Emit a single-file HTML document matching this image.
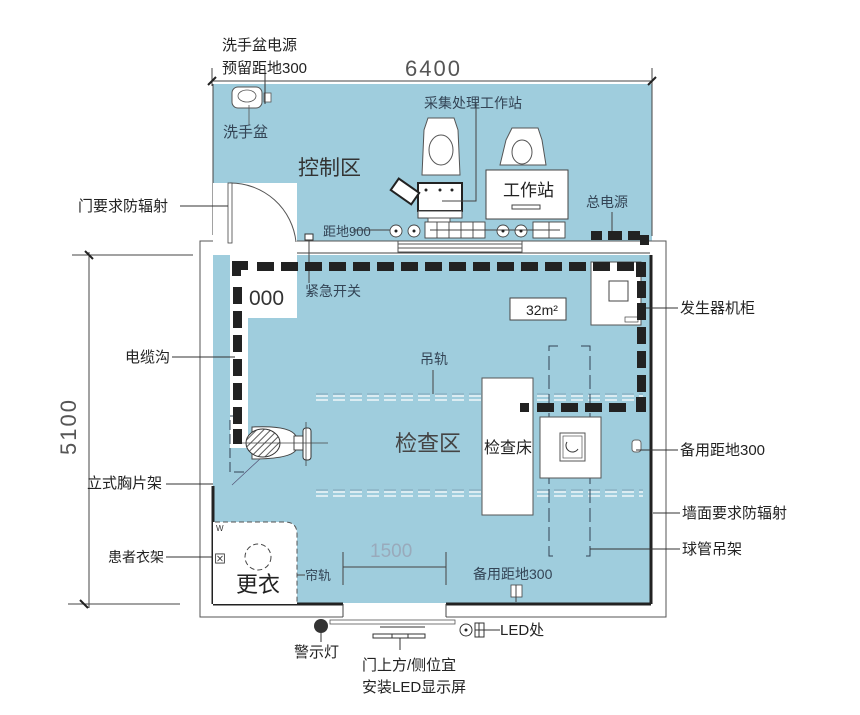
<!DOCTYPE html>
<html><head><meta charset="utf-8"><style>
html,body{margin:0;padding:0;background:#fff;width:860px;height:715px;overflow:hidden}
svg{display:block}
text{font-family:"Liberation Sans","Noto Sans CJK SC",sans-serif}
</style></head><body>
<svg width="860" height="715" viewBox="0 0 860 715" xmlns="http://www.w3.org/2000/svg">
<defs>
<pattern id="hatch" width="5" height="5" patternUnits="userSpaceOnUse" patternTransform="rotate(45)">
<rect width="5" height="5" fill="#fff"/><line x1="0" y1="0" x2="0" y2="5" stroke="#333" stroke-width="1.6"/></pattern>
</defs>
<rect x="213" y="84" width="439" height="158" fill="#9fcddd"/>
<line x1="213" y1="84" x2="213" y2="235" stroke="#444" stroke-width="1"/>
<rect x="200" y="241" width="466" height="14" fill="#fff"/>
<line x1="200" y1="241" x2="229" y2="241" stroke="#444"/>
<line x1="296" y1="241" x2="666" y2="241" stroke="#444"/>
<line x1="296" y1="253" x2="650" y2="253" stroke="#444"/>
<line x1="398" y1="244" x2="522" y2="244" stroke="#555"/>
<line x1="398" y1="248" x2="522" y2="248" stroke="#555"/>
<line x1="398" y1="252" x2="522" y2="252" stroke="#555"/>
<line x1="398" y1="241" x2="398" y2="253" stroke="#555"/>
<line x1="522" y1="241" x2="522" y2="253" stroke="#555"/>
<rect x="213" y="255" width="438" height="349" fill="#9fcddd"/>
<rect x="200" y="241" width="466" height="376" fill="none" stroke="#555" stroke-width="1"/>
<line x1="651" y1="255" x2="651" y2="604" stroke="#222" stroke-width="3"/>
<line x1="213" y1="486" x2="213" y2="604" stroke="#222" stroke-width="3"/>
<line x1="213" y1="604" x2="343" y2="604" stroke="#222" stroke-width="3"/>
<line x1="446" y1="604" x2="651" y2="604" stroke="#222" stroke-width="3"/>
<rect x="343" y="603" width="103" height="15" fill="#fff"/>
<line x1="343" y1="604" x2="343" y2="617" stroke="#444"/>
<line x1="446" y1="604" x2="446" y2="617" stroke="#444"/>
<rect x="330" y="620" width="125" height="4" fill="#fff" stroke="#555" stroke-width="0.8"/>
<rect x="213" y="183" width="84" height="72" fill="#fff"/>
<path d="M230 183 A66 66 0 0 1 296 242 L230 242 Z" fill="#fff"/>
<path d="M230 183 A66 66 0 0 1 296 242" fill="none" stroke="#555"/>
<rect x="228" y="183" width="4" height="60" fill="#fff" stroke="#444" stroke-width="0.8"/>
<rect x="230" y="255" width="67" height="63" fill="#fff"/>
<text x="249" y="305" font-size="21" fill="#333" font-family="Liberation Sans">000</text>
<rect x="230" y="318" width="18" height="130" fill="#fff"/>
<g fill="#222">
<rect x="232" y="261" width="16" height="9"/>
<rect x="232" y="261" width="9" height="15"/>
</g>
<rect x="232" y="87" width="30" height="21" rx="6" fill="#fff" stroke="#555"/>
<ellipse cx="247" cy="96" rx="9" ry="6" fill="none" stroke="#555" stroke-width="0.8"/>
<rect x="264" y="93" width="7" height="9" fill="#fff" stroke="#555" stroke-width="0.8"/>
<line x1="265" y1="70" x2="265" y2="104" stroke="#333"/>
<line x1="249" y1="105" x2="249" y2="125" stroke="#555" stroke-width="0.8"/>
<text x="223" y="137" font-size="15" fill="#345">洗手盆</text>
<text x="298" y="175" font-size="21" fill="#333">控制区</text>
<path d="M428 118 L454 118 L458 130 L460 175 L422 175 L424 130 Z" fill="#fff" stroke="#555"/>
<ellipse cx="441" cy="150" rx="12" ry="15" fill="none" stroke="#555"/>
<rect x="418" y="183" width="44" height="28" fill="#fff" stroke="#222" stroke-width="2"/>
<rect x="418" y="211" width="44" height="7" fill="#fff" stroke="#444"/>
<circle cx="426" cy="190" r="1.5" fill="#222"/><circle cx="440" cy="190" r="1.5" fill="#222"/><circle cx="452" cy="190" r="1.5" fill="#222"/>
<rect x="428" y="218" width="22" height="8" fill="#fff" stroke="#555"/>
<g transform="rotate(35 404 192)"><rect x="392" y="184" width="25" height="14" fill="#fff" stroke="#222" stroke-width="2"/></g>
<polyline points="442,201 476,201 476,103" fill="none" stroke="#444"/>
<text x="424" y="108" font-size="14" fill="#345">采集处理工作站</text>
<path d="M512 128 L538 128 L542 140 L546 165 L500 165 L506 140 Z" fill="#fff" stroke="#555"/>
<ellipse cx="522" cy="152" rx="10" ry="12" fill="none" stroke="#555"/>
<rect x="486" y="170" width="82" height="49" fill="#fff" stroke="#444"/>
<text x="503" y="196" font-size="17" fill="#222">工作站</text>
<rect x="512" y="205" width="28" height="4" fill="#fff" stroke="#444"/>
<g fill="#fff" stroke="#444" stroke-width="0.9">
<circle cx="396" cy="231" r="6"/><circle cx="414" cy="231" r="6"/><circle cx="503" cy="231" r="6"/><circle cx="521" cy="231" r="6"/>
<rect x="425" y="222" width="60" height="16"/>
<rect x="533" y="222" width="32" height="16"/>
</g>
<g stroke="#444" stroke-width="0.9">
<line x1="437" y1="222" x2="437" y2="238"/><line x1="449" y1="222" x2="449" y2="238"/><line x1="461" y1="222" x2="461" y2="238"/><line x1="473" y1="222" x2="473" y2="238"/><line x1="549" y1="222" x2="549" y2="238"/>
<line x1="430" y1="230" x2="560" y2="230"/>
<line x1="353" y1="230" x2="390" y2="230"/>
</g>
<circle cx="396" cy="231" r="1.5" fill="#222"/><circle cx="414" cy="231" r="1.5" fill="#222"/><circle cx="503" cy="231" r="1.5" fill="#222"/><circle cx="521" cy="231" r="1.5" fill="#222"/>
<text x="323" y="236" font-size="13" fill="#345">距地900</text>
<rect x="305" y="234" width="8" height="6" fill="#fff" stroke="#333"/>
<line x1="309" y1="240" x2="309" y2="283" stroke="#444"/>
<text x="305" y="296" font-size="14" fill="#345">紧急开关</text>
<g fill="#222"><rect x="591" y="231" width="11" height="9"/><rect x="608" y="231" width="14" height="9"/><rect x="628" y="231" width="12" height="9"/><rect x="640" y="235" width="9" height="10"/></g>
<line x1="612" y1="212" x2="612" y2="231" stroke="#444"/>
<text x="586" y="207" font-size="14" fill="#345">总电源</text>
<rect x="591" y="262" width="50" height="63" fill="#fff" stroke="#555"/>
<rect x="609" y="281" width="19" height="20" fill="#fff" stroke="#444"/>
<rect x="625" y="317" width="13" height="5" fill="#fff" stroke="#444" stroke-width="0.7"/>
<rect x="510" y="298" width="56" height="22" fill="#fff" stroke="#444"/>
<text x="526" y="315" font-size="14" fill="#222">32m²</text>
<g stroke="#fff" stroke-width="1.2" stroke-dasharray="12 5">
<line x1="316" y1="396" x2="643" y2="396"/><line x1="316" y1="400" x2="643" y2="400"/>
<line x1="316" y1="492" x2="643" y2="492"/><line x1="316" y1="496" x2="643" y2="496"/>
</g>
<g stroke="#456" stroke-width="0.6" stroke-dasharray="12 5" opacity="0.6">
<line x1="316" y1="394" x2="643" y2="394"/><line x1="316" y1="490" x2="643" y2="490"/>
</g>
<line x1="433" y1="370" x2="433" y2="394" stroke="#444"/>
<text x="420" y="364" font-size="14" fill="#345">吊轨</text>
<rect x="482" y="378" width="51" height="137" fill="#fff" stroke="#555"/>
<text x="484" y="453" font-size="16" fill="#222">检查床</text>
<g stroke="#345" stroke-width="1" stroke-dasharray="14 5" fill="none">
<polyline points="558,346 549,346 549,556 558,556"/>
<polyline points="581,346 590,346 590,556 581,556"/>
</g>
<rect x="540" y="417" width="61" height="61" fill="#fff" stroke="#555"/>
<rect x="560" y="433" width="25" height="28" fill="#fff" stroke="#555"/>
<rect x="563" y="436" width="19" height="22" fill="none" stroke="#555" stroke-width="0.7"/>
<path d="M567 442 A6 6 0 1 0 578 449" fill="none" stroke="#333"/>
<text x="395" y="451" font-size="22" fill="#444">检查区</text>
<polyline points="240,416 230,416 230,472 245,472" fill="none" stroke="#345" stroke-dasharray="10 4"/>
<line x1="232" y1="485" x2="262" y2="457" stroke="#557" stroke-width="0.7"/>
<path d="M252 427 Q290 425 296 436 L296 450 Q290 459 252 459 Z" fill="#fff" stroke="#444"/>
<ellipse cx="263" cy="443" rx="17" ry="14" fill="url(#hatch)" stroke="#333"/>
<rect x="294" y="436" width="12" height="14" fill="#fff" stroke="#444"/>
<rect x="303" y="428" width="8" height="32" rx="3" fill="#fff" stroke="#333"/>
<line x1="306" y1="422" x2="306" y2="466" stroke="#444" stroke-width="0.8"/>
<line x1="240" y1="443" x2="328" y2="443" stroke="#444" stroke-width="0.8"/>
<path d="M213 522 L285 522 Q297 522 297 534 L297 604 L213 604 Z" fill="#fff"/>
<path d="M215 522 L285 522 Q297 522 297 534 L297 604" fill="none" stroke="#555" stroke-dasharray="5 3"/>
<circle cx="258" cy="557" r="13" fill="none" stroke="#444" stroke-dasharray="5 3"/>
<text x="236" y="592" font-size="22" fill="#222">更衣</text>
<text x="216" y="531" font-size="8" fill="#333">W</text>
<text x="214" y="563" font-size="12" fill="#333">⊠</text>
<line x1="343" y1="567" x2="446" y2="567" stroke="#444"/>
<line x1="343" y1="552" x2="343" y2="585" stroke="#444"/>
<line x1="446" y1="552" x2="446" y2="585" stroke="#444"/>
<text x="370" y="557" font-size="19" fill="#9ab" font-family="Liberation Sans">1500</text>
<line x1="297" y1="575" x2="305" y2="575" stroke="#444"/>
<text x="305" y="580" font-size="13" fill="#345">帘轨</text>
<text x="473" y="579" font-size="14" fill="#345">备用距地300</text>
<rect x="511" y="585" width="11" height="12" fill="#fff" stroke="#444" stroke-width="0.8"/>
<line x1="516" y1="585" x2="516" y2="602" stroke="#444"/>
<rect x="632" y="440" width="9" height="12" rx="3" fill="#fff" stroke="#666"/>
<circle cx="321" cy="626" r="7" fill="#333"/>
<line x1="321" y1="633" x2="321" y2="642" stroke="#333"/>
<text x="294" y="657" font-size="15" fill="#222">警示灯</text>
<g stroke="#333" fill="none"><line x1="380" y1="627" x2="425" y2="627"/><rect x="373" y="634" width="52" height="4"/><line x1="392" y1="634" x2="392" y2="638"/><line x1="408" y1="634" x2="408" y2="638"/><line x1="400" y1="638" x2="400" y2="650"/></g>
<text x="362" y="670" font-size="15" fill="#222">门上方/侧位宜</text>
<text x="362" y="692" font-size="15" fill="#222">安装LED显示屏</text>
<circle cx="466" cy="630" r="6" fill="#fff" stroke="#333"/><circle cx="466" cy="630" r="1.5" fill="#222"/>
<rect x="475" y="623" width="9" height="14" fill="#fff" stroke="#333"/><line x1="479" y1="623" x2="479" y2="637" stroke="#333"/><line x1="475" y1="630" x2="500" y2="630" stroke="#333"/>
<text x="500" y="635" font-size="15" fill="#222">LED处</text>
<line x1="212" y1="68" x2="212" y2="86" stroke="#444"/>
<line x1="652" y1="68" x2="652" y2="236" stroke="#444"/>
<line x1="212" y1="81" x2="652" y2="81" stroke="#444"/>
<line x1="208" y1="85" x2="216" y2="77" stroke="#222" stroke-width="2"/>
<line x1="648" y1="85" x2="656" y2="77" stroke="#222" stroke-width="2"/>
<text x="405" y="76" font-size="22" fill="#555" letter-spacing="2">6400</text>
<line x1="72" y1="255" x2="193" y2="255" stroke="#444"/>
<line x1="68" y1="604" x2="180" y2="604" stroke="#444"/>
<line x1="89" y1="252" x2="89" y2="608" stroke="#444"/>
<line x1="85" y1="251" x2="93" y2="259" stroke="#222" stroke-width="2"/>
<line x1="80" y1="600" x2="88" y2="608" stroke="#222" stroke-width="2"/>
<text transform="translate(76 455) rotate(-90)" font-size="22" fill="#555" letter-spacing="2">5100</text>
<text x="222" y="50" font-size="15" fill="#222">洗手盆电源</text>
<text x="222" y="73" font-size="15" fill="#222">预留距地300</text>
<text x="78" y="211" font-size="15" fill="#222">门要求防辐射</text>
<line x1="180" y1="206" x2="228" y2="206" stroke="#333"/>
<text x="125" y="362" font-size="15" fill="#222">电缆沟</text>
<line x1="172" y1="357" x2="235" y2="357" stroke="#333"/>
<text x="87" y="488" font-size="15" fill="#222">立式胸片架</text>
<line x1="166" y1="484" x2="213" y2="484" stroke="#333"/>
<text x="108" y="562" font-size="14" fill="#222">患者衣架</text>
<line x1="166" y1="557" x2="213" y2="557" stroke="#333"/>
<text x="680" y="313" font-size="15" fill="#222">发生器机柜</text>
<line x1="640" y1="308" x2="678" y2="308" stroke="#333"/>
<text x="680" y="455" font-size="15" fill="#222">备用距地300</text>
<line x1="636" y1="450" x2="678" y2="450" stroke="#333"/>
<text x="682" y="518" font-size="15" fill="#222">墙面要求防辐射</text>
<line x1="653" y1="513" x2="680" y2="513" stroke="#333"/>
<text x="682" y="554" font-size="15" fill="#222">球管吊架</text>
<line x1="590" y1="549" x2="680" y2="549" stroke="#333"/>
<g fill="#222">
<rect x="257" y="262" width="17" height="9"/><rect x="281" y="262" width="17" height="9"/><rect x="305" y="262" width="17" height="9"/><rect x="329" y="262" width="17" height="9"/><rect x="353" y="262" width="17" height="9"/><rect x="377" y="262" width="17" height="9"/><rect x="401" y="262" width="17" height="9"/><rect x="425" y="262" width="17" height="9"/><rect x="449" y="262" width="17" height="9"/><rect x="473" y="262" width="17" height="9"/><rect x="497" y="262" width="17" height="9"/><rect x="521" y="262" width="17" height="9"/><rect x="545" y="262" width="17" height="9"/><rect x="569" y="262" width="17" height="9"/><rect x="593" y="262" width="17" height="9"/><rect x="617" y="262" width="17" height="9"/><rect x="636" y="262" width="10" height="15"/>
<rect x="233" y="287" width="9" height="17"/><rect x="233" y="311" width="9" height="17"/><rect x="233" y="335" width="9" height="17"/><rect x="233" y="359" width="9" height="17"/><rect x="233" y="383" width="9" height="17"/><rect x="233" y="407" width="9" height="17"/><rect x="233" y="429" width="9" height="15"/>
<rect x="637" y="281" width="9" height="17"/><rect x="637" y="303" width="9" height="17"/><rect x="637" y="327" width="9" height="17"/><rect x="637" y="351" width="9" height="17"/><rect x="637" y="375" width="9" height="17"/><rect x="636" y="397" width="10" height="15"/>
<rect x="520" y="403" width="9" height="9"/><rect x="537" y="403" width="17" height="9"/><rect x="561" y="403" width="17" height="9"/><rect x="585" y="403" width="17" height="9"/><rect x="609" y="403" width="17" height="9"/>
</g>
</svg>
</body></html>
